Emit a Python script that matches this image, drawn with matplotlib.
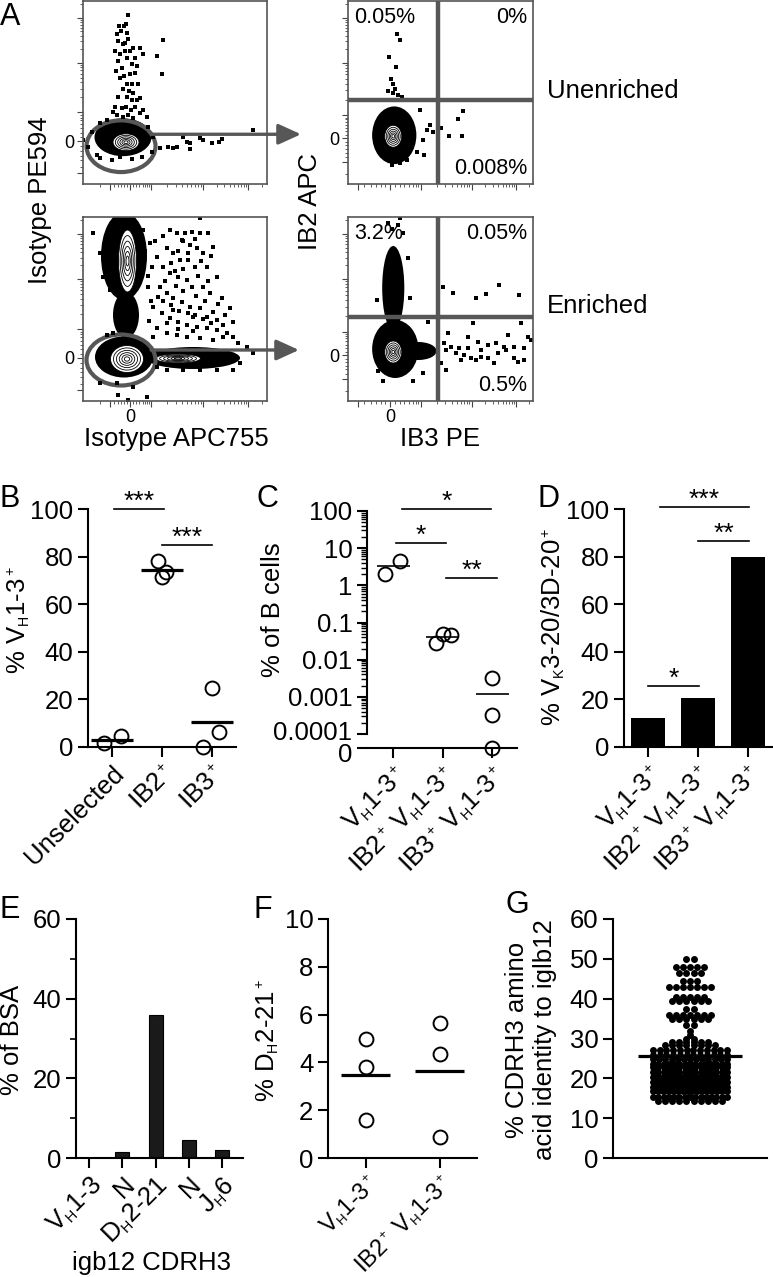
import numpy as np
import matplotlib
matplotlib.use('Agg')
import matplotlib.pyplot as plt
import matplotlib._mathtext as mathtext_mod
from matplotlib.patches import Ellipse
from matplotlib.transforms import ScaledTranslation

plt.rcParams['font.family'] = ['Liberation Sans', 'DejaVu Sans']
plt.rcParams['mathtext.fontset'] = 'custom'
plt.rcParams['mathtext.rm'] = 'Liberation Sans'
plt.rcParams['mathtext.it'] = 'Liberation Sans:italic'
plt.rcParams['mathtext.bf'] = 'Liberation Sans:bold'
mathtext_mod.SHRINK_FACTOR = 0.55  # tiny sub/superscripts like the original

# ---------------- data ----------------
# A: flow events (arbitrary channel units, 0-184 on each axis)
TL_x = [45, 41, 43, 36, 38, 44, 34, 35, 42, 40, 45, 80, 32, 37, 42, 47, 50, 52, 57, 44,
        35, 39, 49, 54, 60, 74, 79, 33, 37, 41, 47, 52, 44, 49, 55, 40, 46, 50, 35, 44,
        49, 54, 57, 32, 39, 43, 48, 52, 60, 30, 34, 40, 45, 50, 57, 64,
        77, 85, 90, 94, 100, 104, 107, 107, 117, 120, 129, 136, 139, 170,
        0, 5, 14, 17, 29, 37, 49, 59, 69, 9, 17, 24, 65, 70]
TL_y = [170, 159, 161, 159, 154, 152, 151, 144, 142, 141, 146, 145, 134, 131, 134, 134, 137, 127, 137, 127,
        124, 117, 121, 119, 131, 129, 111, 114, 107, 109, 111, 112, 101, 101, 101, 96, 94, 92, 87, 87,
        84, 84, 86, 77, 76, 77, 74, 77, 74, 72, 69, 67, 69, 66, 71, 67,
        36, 37, 36, 37, 47, 42, 41, 35, 46, 44, 41, 42, 45, 54,
        44, 37, 29, 26, 24, 27, 25, 27, 32, 52, 61, 64, 57, 47]

TR_x = [49, 52, 41, 48, 43, 45, 47, 45, 50, 54, 40, 114, 109, 100, 113,
        82, 85, 79, 92, 76, 69, 72, 75, 52, 44, 59]
TR_y = [151, 145, 128, 118, 106, 101, 96, 92, 89, 87, 94, 73, 65, 48, 48,
        59, 52, 54, 56, 29, 32, 74, 44, 21, 19, 24]

BL_x = [117, 94, 87, 102, 109, 117, 125, 130, 99, 107, 114, 120, 84, 90, 97, 105, 112, 124, 134, 74,
        80, 87, 95, 104, 109, 120, 127, 139, 77, 84, 90, 99, 107, 117, 130, 142, 147, 70, 79, 87,
        95, 104, 114, 124, 134, 144, 150, 74, 84, 94, 104, 117, 130, 10, 17, 24, 20, 27, 30, 24,
        35, 45, 64, 17, 34, 50, 164, 170, 157, 150, 134, 117, 100, 84, 74, 67, 69, 65, 124, 110,
        90, 75, 134, 150, 70, 60, 57,
        100, 112, 95, 105, 118, 128, 88, 92, 100, 115, 125, 82, 93, 100, 113, 122, 135, 80,
        88, 96, 105, 112, 120, 128, 140, 84, 95, 110, 140, 155, 65, 68, 66, 62, 72, 80]
BL_y = [183, 168, 171, 168, 169, 168, 168, 154, 161, 156, 153, 148, 153, 148, 141, 141, 134, 134, 124, 144,
        134, 128, 124, 121, 114, 114, 108, 103, 114, 108, 103, 99, 94, 93, 89, 86, 93, 94, 88, 83,
        79, 76, 74, 73, 71, 68, 64, 73, 68, 66, 64, 63, 61, 168, 148, 138, 124, 111, 68, 66,
        6, 1, 4, 18, 18, 14, 54, 48, 38, 31, 31, 31, 31, 31, 34, 158, 134, 114, 84, 84,
        91, 104, 81, 79, 64, 171, 148,
        160, 162, 150, 148, 140, 145, 138, 130, 132, 125, 120, 120, 115, 110, 105, 100, 97, 100,
        96, 90, 88, 86, 82, 78, 76, 78, 72, 70, 64, 58, 125, 100, 80, 150, 160, 165]

BR_x = [94, 104, 127, 137, 150, 170, 52, 60, 62, 80,
        124, 172, 99, 119, 129, 159, 179, 102, 110, 119, 132, 139, 147, 155, 165, 175, 182, 97, 107, 115,
        122, 132, 139, 149, 157, 165, 175, 95, 112, 127, 97, 92, 145, 169, 29, 40, 44, 50, 55, 35, 30, 65, 75]
BR_y = [114, 108, 103, 107, 116, 106, 183, 143, 103, 79,
        78, 78, 68, 64, 59, 66, 64, 54, 53, 53, 51, 56, 58, 54, 54, 53, 61, 51, 48, 46,
        43, 44, 43, 48, 51, 43, 41, 58, 41, 41, 31, 38, 38, 39, 101, 178, 172, 176, 168, 20, 30, 20, 28]

# dense populations: (centre x, centre y, width, height)
TL_pops = [(40, 47, 57, 38)]
TL_cont = [(43, 42, 26, 17)]
TR_pops = [(46, 49, 44, 58)]
TR_cont = [(45, 48, 17, 22)]
BL_pops = [(41, 145, 46, 88), (43, 86, 26, 46), (41, 44, 58, 41), (110, 43, 94, 22)]
BL_cont = [(44, 42, 33, 27), (44.5, 140, 18, 62), (95, 42.5, 45, 9)]
BR_pops = [(45, 113, 22, 84), (47, 52, 46, 58), (70, 50, 36, 18)]
BR_cont = [(45, 49, 17, 22)]

quad_unenr = ['0.05%', '0%', '0.008%']
quad_enr = ['3.2%', '0.05%', '0.5%']

# B
cats_B = ['Unselected', 'IB2$^+$', 'IB3$^+$']
vals_B = [[1.5, 4.5], [78, 71.5, 73.5], [25, 6.3, 0]]

# C
cats_C = ['V$_\\mathrm{H}$1-3$^+$', 'IB2$^+$ V$_\\mathrm{H}$1-3$^+$', 'IB3$^+$ V$_\\mathrm{H}$1-3$^+$']
vals_C = [[2.0, 4.6], [0.029, 0.05, 0.045], [0.0032, 0.00032, 0]]
ticklabels_C = ['0.0001', '0.001', '0.01', '0.1', '1', '10', '100']

# D
vals_D = [12, 20.7, 80]

# E
cats_E = ['V$_\\mathrm{H}$1-3', 'N', 'D$_\\mathrm{H}$2-21', 'N', 'J$_\\mathrm{H}$6']
vals_E = [0, 1.5, 35.8, 4.6, 1.9]

# F
cats_F = ['V$_\\mathrm{H}$1-3$^+$', 'IB2$^+$ V$_\\mathrm{H}$1-3$^+$']
vals_F = [[5.0, 3.8, 1.6], [5.65, 4.35, 0.88]]

# G: identity levels and number of sequences at each level
levels_G = [50, 48, 46.5, 44.5, 43, 40.5, 39.5, 37.5, 36, 35, 33.5, 32, 31, 30,
            29.2, 28.3, 27, 25.9, 24.9, 23.7, 22.9, 21.7, 20.4, 19.2, 17.9, 16.7, 15.4, 14.2]
counts_G = [2, 5, 4, 3, 7, 5, 6, 2, 7, 6, 2, 1, 1, 2,
            6, 8, 12, 12, 13, 15, 15, 15, 16, 16, 16, 16, 15, 10]

# ---------------- figure ----------------
W, H = 773, 1277
fig = plt.figure(figsize=(W / 100, H / 100), dpi=100)
GATE = '#575757'
FS = 18.5


def px_axes(l, t, r, b):
    return fig.add_axes([l / W, 1 - b / H, (r - l) / W, (b - t) / H])


def ftext(x, y, s, **kw):
    return fig.text(x / W, 1 - y / H, s, **kw)


def biex_ticks(neg, zero, decades):
    minor = []
    for a, b in zip(decades[:-1], decades[1:]):
        minor += [a + (b - a) * np.log10(k) for k in range(2, 10)]
    step = decades[-1] - decades[-2]
    minor += [decades[-1] + step * np.log10(k) for k in range(2, 4)]
    minor += [zero + (decades[0] - zero) * f for f in (0.15, 0.3, 0.45, 0.6, 0.72, 0.82, 0.9)]
    minor += [zero - (zero - neg) * f for f in (0.15, 0.3, 0.45, 0.6, 0.8)]
    minor += [neg - (zero - neg) * 0.5]
    return [neg, zero] + list(decades), [m for m in minor if 0 <= m <= 184]


def flow(ax, pops, conts, ex, ey, xt, yt):
    ax.set_xlim(0, 184)
    ax.set_ylim(0, 184)
    for cx, cy, w, h in pops:
        ax.add_patch(Ellipse((cx, cy), w, h, fc='black', ec='none'))
    for cx, cy, w, h in conts:
        ax.add_patch(Ellipse((cx, cy), w, h, fc='white', ec='none'))
        for f in (1.0, 0.82, 0.64, 0.47, 0.31, 0.16):
            ax.add_patch(Ellipse((cx, cy), w * f, h * f, fc='none', ec='black', lw=0.6))
    ax.plot(ex, ey, 's', color='black', ms=2.3, mew=0)
    for sp in ax.spines.values():
        sp.set_color('#555555')
        sp.set_linewidth(1.2)
    xmaj, xmin = biex_ticks(*xt)
    ymaj, ymin = biex_ticks(*yt)
    ax.set_xticks(xmaj)
    ax.set_xticks(xmin, minor=True)
    ax.set_yticks(ymaj)
    ax.set_yticks(ymin, minor=True)
    ax.set_xticklabels(['' if i != 1 else '0' for i in range(len(xmaj))])
    ax.set_yticklabels(['' if i != 1 else '0' for i in range(len(ymaj))])
    ax.tick_params(which='major', length=4, width=0.8, color='#444444', labelsize=13, pad=2)
    ax.tick_params(which='minor', length=2.2, width=0.6, color='#444444')


left_xt = (27, 47, [68, 120, 165])
left_yt = (11, 43, [72, 122, 167])
right_xt = (10, 42, [73, 123, 167])
right_yt = (22, 46, [69, 122, 167])
ARROW = dict(arrowstyle='-|>,head_length=0.55,head_width=0.25',
             color=GATE, lw=2.4, mutation_scale=25, shrinkA=0, shrinkB=0)

ax_tl = px_axes(83, 1, 267, 184)
flow(ax_tl, TL_pops, TL_cont, TL_x, TL_y, left_xt, left_yt)
ax_tl.set_xticklabels([])
ax_tl.add_patch(Ellipse((38, 38), 69, 52, fc='none', ec=GATE, lw=3))
ax_tl.annotate('', xy=(218, 50), xytext=(68, 50), annotation_clip=False, arrowprops=ARROW)

ax_bl = px_axes(83, 217, 267, 401)
flow(ax_bl, BL_pops, BL_cont, BL_x, BL_y, left_xt, left_yt)
ax_bl.add_patch(Ellipse((38, 41), 69, 51, fc='none', ec=GATE, lw=3))
ax_bl.annotate('', xy=(216, 51), xytext=(68, 51), annotation_clip=False, arrowprops=ARROW)

ax_tr = px_axes(348, 1, 533, 184)
flow(ax_tr, TR_pops, TR_cont, TR_x, TR_y, right_xt, right_yt)
ax_tr.set_xticklabels([])
ax_br = px_axes(348, 217, 533, 401)
flow(ax_br, BR_pops, BR_cont, BR_x, BR_y, right_xt, right_yt)

for ax, q in ((ax_tr, quad_unenr), (ax_br, quad_enr)):
    ax.axhline(84, color=GATE, lw=3.2)
    ax.axvline(90, color=GATE, lw=3.2)
    ax.text(6, 178, q[0], ha='left', va='top', fontsize=15.5)
    ax.text(178, 178, q[1], ha='right', va='top', fontsize=15.5)
    ax.text(178, 5, q[2], ha='right', va='bottom', fontsize=15.5)

ftext(40, 200, 'Isotype PE594', rotation=90, ha='center', va='center', fontsize=FS)
ftext(176, 439, 'Isotype APC755', ha='center', va='center', fontsize=FS)
ftext(310, 202, 'IB2 APC', rotation=90, ha='center', va='center', fontsize=FS)
ftext(440, 439, 'IB3 PE', ha='center', va='center', fontsize=FS)
ftext(547, 91, 'Unenriched', ha='left', va='center', fontsize=18.5)
ftext(547, 306, 'Enriched', ha='left', va='center', fontsize=18.5)


def style(ax):
    ax.spines['top'].set_visible(False)
    ax.spines['right'].set_visible(False)
    for sp in ('left', 'bottom'):
        ax.spines[sp].set_linewidth(1.5)
    ax.tick_params(which='major', length=7.5, width=1.5, labelsize=FS, pad=3)
    ax.tick_params(which='minor', length=4.5, width=1.2)


def sig(ax, x0, x1, y, s):
    ax.plot([x0, x1], [y, y], color='black', lw=1.2, clip_on=False)
    ax.text((x0 + x1) / 2, y, s, ha='center', va='baseline', fontsize=19, clip_on=False)


def rot_labels(ax, labels, size=FS):
    ax.set_xticklabels(labels, rotation=45, ha='right', va='top', rotation_mode='anchor',
                       fontsize=size)


def circles(ax, xs, ys):
    ax.plot(xs, ys, 'o', ms=10, mfc='none', mec='black', mew=1.4, clip_on=False, zorder=3)


# ---- B ----
jit_B = [[-0.16, 0.18], [-0.08, 0.0, 0.08], [0.0, 0.14, -0.18]]
ax_b = px_axes(88, 509, 236, 747)
style(ax_b)
for i, v in enumerate(vals_B):
    circles(ax_b, [i + j for j in jit_B[i]], v)
    ax_b.hlines(np.mean(v), i - 0.42, i + 0.42, color='black', lw=2.3, zorder=4)
ax_b.set_xlim(-0.48, 2.48)
ax_b.set_ylim(0, 100)
ax_b.set_yticks([0, 20, 40, 60, 80, 100])
ax_b.set_xticks(range(3))
rot_labels(ax_b, cats_B)
sig(ax_b, 0.04, 1.04, 100, '***')
sig(ax_b, 1.0, 2.0, 85, '***')
ftext(19, 620, '% V$_\\mathrm{H}$1-3$^+$', rotation=90, ha='center', va='center', fontsize=FS)

# ---- C ----
ZERO_C = -4.375


def c_pos(v):
    return np.log10(v) if v > 0 else ZERO_C


jit_C = [[-0.16, 0.14], [-0.14, 0.0, 0.16], [0.0, 0.0, 0.0]]
ax_c = px_axes(367, 511, 517, 748)
style(ax_c)
for i, v in enumerate(vals_C):
    circles(ax_c, [i + j for j in jit_C[i]], [c_pos(x) for x in v])
    ax_c.hlines(c_pos(np.mean(v)), i - 0.33, i + 0.33, color='black', lw=1.2, zorder=4)
ax_c.set_xlim(-0.53, 2.5)
ax_c.set_ylim(ZERO_C, 2)
ax_c.spines['left'].set_bounds(-4, 2)
ax_c.set_yticks([ZERO_C] + list(range(-4, 3)))
ax_c.set_yticklabels(['0'] + ticklabels_C)
ax_c.set_yticks([d + np.log10(k) for d in range(-4, 2) for k in range(2, 10)], minor=True)
ax_c.tick_params(axis='y', which='minor', length=4, width=1.0)
labs = ax_c.get_yticklabels()
labs[0].set_transform(labs[0].get_transform() + ScaledTranslation(0, -0.05, fig.dpi_scale_trans))
labs[1].set_transform(labs[1].get_transform() + ScaledTranslation(0, 0.04, fig.dpi_scale_trans))
ax_c.set_xticks(range(3))
rot_labels(ax_c, cats_C)
sig(ax_c, 0.18, 1.98, 2.05, '*')
sig(ax_c, 0.06, 1.07, 1.14, '*')
sig(ax_c, 1.07, 2.1, 0.2, '**')
ftext(273, 610, '% of B cells', rotation=90, ha='center', va='center', fontsize=FS)

# ---- D ----
ax_d = px_axes(624, 509, 772, 747)
style(ax_d)
ax_d.bar(range(3), vals_D, width=0.69, color='black')
ax_d.set_xlim(-0.48, 2.48)
ax_d.set_ylim(0, 100)
ax_d.set_yticks([0, 20, 40, 60, 80, 100])
ax_d.set_xticks(range(3))
rot_labels(ax_d, cats_C)
sig(ax_d, 0.24, 2.02, 100.8, '***')
sig(ax_d, 1.0, 2.02, 86.5, '**')
sig(ax_d, 0.0, 1.02, 25.6, '*')
ftext(553, 627, '% V$_\\mathrm{K}$3-20/3D-20$^+$', rotation=90, ha='center', va='center', fontsize=FS)

# ---- E ----
ax_e = px_axes(76, 919, 243, 1158)
style(ax_e)
ax_e.bar(range(5), vals_E, width=0.42, color='#1a1a1a', edgecolor='black', linewidth=0.8)
ax_e.set_xlim(-0.39, 4.62)
ax_e.set_ylim(0, 60)
ax_e.set_yticks([0, 20, 40, 60])
ax_e.set_yticks([10, 30, 50], minor=True)
ax_e.set_xticks(range(5))
rot_labels(ax_e, cats_E)
ftext(152, 1263, 'igb12 CDRH3', ha='center', va='center', fontsize=FS)
ftext(12, 1040, '% of BSA', rotation=90, ha='center', va='center', fontsize=FS)

# ---- F ----
ax_f = px_axes(328, 919, 477, 1158)
style(ax_f)
for i, v in enumerate(vals_F):
    circles(ax_f, [i] * len(v), v)
    ax_f.hlines(np.mean(v), i - 0.33, i + 0.33, color='black', lw=2.3, zorder=4)
ax_f.set_xlim(-0.51, 1.5)
ax_f.set_ylim(0, 10)
ax_f.set_yticks([0, 2, 4, 6, 8, 10])
ax_f.set_xticks(range(2))
ax_f.tick_params(axis='x', pad=2)
rot_labels(ax_f, cats_F, size=17)
ftext(268, 1040, '% D$_\\mathrm{H}$2-21$^+$', rotation=90, ha='center', va='center', fontsize=FS)

# ---- G ----
ax_g = px_axes(613, 919, 767, 1158)
style(ax_g)
gx, gy = [], []
for lev, n in zip(levels_G, counts_G):
    half = min((n - 1) * 0.046 / 2, 0.24)
    xs = np.linspace(0.5 - half, 0.5 + half, n) if n > 1 else [0.5]
    gx += list(xs)
    gy += [lev] * n
ax_g.plot(gx, gy, 'o', color='black', ms=5.0, mew=0, clip_on=False)
ax_g.hlines(np.mean(gy), 0.16, 0.84, color='black', lw=2.3, zorder=4)
ax_g.set_xlim(0, 1)
ax_g.set_ylim(0, 60)
ax_g.set_yticks(range(0, 61, 10))
ax_g.set_xticks([])
ftext(531, 1040, '% CDRH3 amino\nacid identity to iglb12', rotation=90, ha='center',
      va='center', fontsize=FS, linespacing=1.2)

# panel letters
for s, x, y in (('A', 0, 2), ('B', 0, 484), ('C', 257, 484), ('D', 537, 484),
                ('E', 0, 895), ('F', 254, 895), ('G', 505, 890)):
    ftext(x, y, s, ha='left', va='top', fontsize=22)

fig.savefig('out.png', dpi=100)
